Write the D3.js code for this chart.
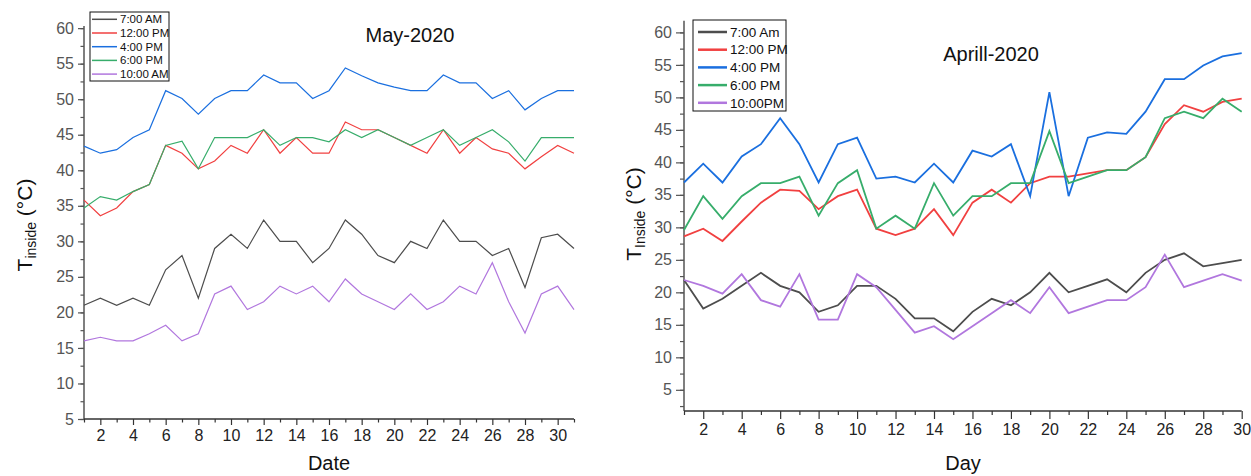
<!DOCTYPE html>
<html><head><meta charset="utf-8">
<script src="https://cdn.jsdelivr.net/npm/d3@7"></script>
<style>body{margin:0;background:#fff;} svg{display:block;font-family:"Liberation Sans",Arial,sans-serif;}</style>
</head><body>
<svg id="c" width="1251" height="476"></svg>
<script>
// ---------- DATA ----------
const mayDays = d3.range(1, 32);
const mayLabels = ["7:00 AM", "12:00 PM", "4:00 PM", "6:00 PM", "10:00 AM"];
const may7am  = [21,22,21,22,21,26,28,22,29,31,29,33,30,30,27,29,33,31,28,27,30,29,33,30,30,28,29,23.5,30.5,31,29];
const may12pm = [35.8,33.6,34.7,37,38,43.5,42.4,40.2,41.3,43.5,42.4,45.7,42.4,44.6,42.4,42.4,46.8,45.7,45.7,44.6,43.5,42.4,45.7,42.4,44.6,43,42.4,40.2,41.9,43.5,42.4];
const may4pm  = [43.4,42.4,42.9,44.6,45.7,51.2,50.1,47.9,50.1,51.2,51.2,53.4,52.3,52.3,50.1,51.2,54.4,53.3,52.3,51.7,51.2,51.2,53.4,52.3,52.3,50.1,51.2,48.5,50.1,51.2,51.2];
const may6pm  = [34.7,36.3,35.8,37,38,43.5,44.1,40.2,44.6,44.6,44.6,45.7,43.5,44.6,44.6,44,45.7,44.6,45.7,44.6,43.5,44.6,45.7,43.5,44.6,45.7,44,41.3,44.6,44.6,44.6];
const may10   = [16,16.5,16,16,17,18.2,16,17,22.6,23.7,20.4,21.5,23.7,22.6,23.7,21.5,24.7,22.6,21.5,20.4,22.6,20.4,21.5,23.7,22.6,27,21.5,17.1,22.6,23.7,20.4];

const aprDays = d3.range(1, 31);
const aprLabels = ["7:00 Am", "12:00 PM", "4:00 PM", "6:00 PM", "10:00PM"];
const apr7am  = [21.9,17.5,19,21,23,21,20,17,18,21,21,19,16,16,14,17,19,18,20,23,20,21,22,20,23,25,26,24,24.5,25];
const apr12pm = [28.6,29.8,27.9,30.9,33.8,35.8,35.6,32.8,34.8,35.8,29.8,28.8,29.8,32.8,28.8,33.8,35.8,33.8,36.8,37.8,37.8,38.3,38.8,38.8,40.8,45.9,48.8,47.8,49.3,49.8];
const apr4pm  = [36.9,39.8,36.9,40.9,42.8,46.8,42.8,36.9,42.8,43.8,37.5,37.8,36.9,39.8,36.9,41.8,40.9,42.8,34.8,50.8,34.8,43.8,44.6,44.4,47.8,52.8,52.8,54.9,56.3,56.8];
const apr6pm  = [29.6,34.8,31.3,34.8,36.8,36.8,37.8,31.8,36.8,38.8,29.8,31.8,29.8,36.8,31.8,34.8,34.8,36.8,36.8,44.8,36.8,37.8,38.8,38.8,40.8,46.8,47.8,46.8,49.8,47.8];
const apr10pm = [21.9,21,19.8,22.8,18.8,17.8,22.8,15.8,15.8,22.8,20.8,17.3,13.8,14.8,12.8,14.8,16.8,18.8,16.8,20.8,16.8,17.8,18.8,18.8,20.8,25.8,20.8,21.8,22.8,21.8];

const yTickValues = [5,10,15,20,25,30,35,40,45,50,55,60];
const colors = ["#4d4d4d", "#f14040", "#1a6fdf", "#37ad6b", "#b177de"];

// ---------- DRAW ----------
const svg = d3.select("#c");

function drawChart(o) {
  const g = svg.append("g");
  const x = d3.scaleLinear().domain(o.xDomain).range([o.left, o.right]);
  const y = d3.scaleLinear().domain(o.yDomain).range([o.bottom, o.top]);

  // y axis
  const yMinor = d3.range(2.5, 61, 2.5).filter(v => v >= o.yDomain[0] && v <= o.yDomain[1]);
  const ya = g.append("g").attr("transform", `translate(${o.left},0)`)
    .call(d3.axisLeft(y).tickValues(yMinor).tickSize(o.minorLen).tickFormat(""));
  ya.select(".domain").remove();
  ya.selectAll("line").attr("stroke", "#555").attr("stroke-width", 1.2);
  const yb = g.append("g").attr("transform", `translate(${o.left},0)`)
    .call(d3.axisLeft(y).tickValues(yTickValues).tickSize(o.majorLen).tickPadding(4).tickSizeOuter(0));
  yb.select(".domain").attr("stroke", "#555").attr("stroke-width", 1.5)
    .attr("d", `M0,${o.bottom}V${o.top}`);
  yb.selectAll("line").attr("stroke", "#555").attr("stroke-width", 1.2);
  yb.selectAll("text").attr("font-size", o.tickFont).attr("fill", "#555")
    .attr("font-family", "Liberation Sans, Arial, sans-serif");

  // x axis
  const xs = d3.range(o.xDomain[0], o.xDomain[1] + 1);
  const xa = g.append("g").attr("transform", `translate(0,${o.bottom})`)
    .call(d3.axisBottom(x).tickValues(xs.filter(d => d % 2 === 1)).tickSize(o.minorLen).tickFormat(""));
  xa.select(".domain").remove();
  xa.selectAll("line").attr("stroke", "#333").attr("stroke-width", 1.2);
  const xb = g.append("g").attr("transform", `translate(0,${o.bottom})`)
    .call(d3.axisBottom(x).tickValues(xs.filter(d => d % 2 === 0)).tickSize(o.majorLen).tickPadding(5).tickSizeOuter(0));
  xb.select(".domain").attr("stroke", "#333").attr("stroke-width", 1.5)
    .attr("d", `M${o.left},0H${o.right}`);
  xb.selectAll("line").attr("stroke", "#333").attr("stroke-width", 1.2);
  xb.selectAll("text").attr("font-size", o.tickFont).attr("fill", "#222")
    .attr("font-family", "Liberation Sans, Arial, sans-serif");

  // lines
  const line = d3.line().x((d, i) => x(o.days[i])).y(d => y(d));
  o.series.forEach((s, i) => {
    g.append("path").datum(s).attr("d", line).attr("fill", "none")
      .attr("stroke", colors[i]).attr("stroke-width", o.lineW).attr("stroke-linejoin", "miter");
  });

  // title
  g.append("text").attr("x", o.titleX).attr("y", o.titleY).attr("text-anchor", "middle")
    .attr("font-size", 20).attr("fill", "#111").text(o.title);
  // x label
  g.append("text").attr("x", o.xLabelX).attr("y", o.xLabelY).attr("text-anchor", "middle")
    .attr("font-size", 20).attr("fill", "#111").text(o.xLabel);
  // y label
  const yl = g.append("text").attr("transform", `translate(${o.yLabelX},${o.yLabelY}) rotate(-90)`)
    .attr("text-anchor", "middle").attr("font-size", 21).attr("fill", "#111");
  yl.append("tspan").text("T");
  yl.append("tspan").attr("font-size", 14).attr("dy", 4).text(o.sub);
  yl.append("tspan").attr("dy", -4).text(" (°C)");

  // legend
  const L = o.legend;
  g.append("rect").attr("x", L.x).attr("y", L.y).attr("width", L.w).attr("height", L.h)
    .attr("fill", "#fff").attr("stroke", "#111").attr("stroke-width", 1);
  o.labels.forEach((lab, i) => {
    const yy = L.y + L.first + i * L.step;
    g.append("line").attr("x1", L.x + L.lx1).attr("x2", L.x + L.lx2).attr("y1", yy).attr("y2", yy)
      .attr("stroke", colors[i]).attr("stroke-width", L.lw);
    g.append("text").attr("x", L.x + L.tx).attr("y", yy).attr("dy", "0.35em")
      .attr("font-size", L.font).attr("fill", "#111").text(lab);
  });
}

drawChart({
  days: mayDays, series: [may7am, may12pm, may4pm, may6pm, may10], labels: mayLabels,
  xDomain: [1, 31], yDomain: [5, 60.3], left: 84, right: 574, top: 26, bottom: 419,
  majorLen: 6, minorLen: 3.5, tickFont: 16, lineW: 1.2,
  title: "May-2020", titleX: 410, titleY: 42,
  xLabel: "Date", xLabelX: 329, xLabelY: 470,
  sub: "inside", yLabelX: 32, yLabelY: 225,
  legend: {x: 90, y: 12, w: 79, h: 69, first: 7.3, step: 13.7, lx1: 2, lx2: 27, tx: 30, font: 11.5, lw: 1.5}
});

drawChart({
  days: aprDays, series: [apr7am, apr12pm, apr4pm, apr6pm, apr10pm], labels: aprLabels,
  xDomain: [1, 30], yDomain: [1.74, 61.8], left: 684, right: 1241.7, top: 20.7, bottom: 411,
  majorLen: 8, minorLen: 4, tickFont: 16, lineW: 1.8,
  title: "Aprill-2020", titleX: 991, titleY: 61,
  xLabel: "Day", xLabelX: 963, xLabelY: 470,
  sub: "Inside", yLabelX: 641, yLabelY: 214,
  legend: {x: 693, y: 20, w: 93, h: 91, first: 12, step: 17.7, lx1: 5, lx2: 34, tx: 37, font: 13.5, lw: 2.5}
});
</script>
</body></html>
